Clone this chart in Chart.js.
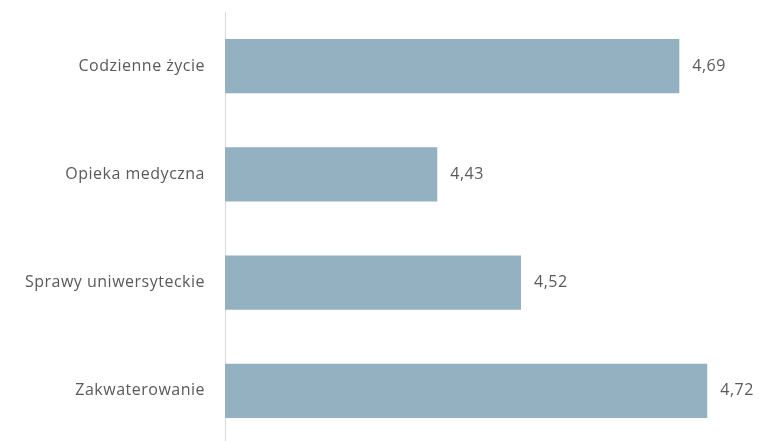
<!DOCTYPE html>
<html>
<head>
<meta charset="utf-8">
<script src="https://cdn.jsdelivr.net/npm/chart.js@4/dist/chart.umd.min.js"></script>
<style>
  html, body { margin: 0; padding: 0; background: #fff; overflow: hidden; }
  #wrap { position: relative; width: 759px; height: 445px; }
</style>
</head>
<body>
<div id="wrap"><canvas id="chart"></canvas></div>
<script>
// Données
const categories = ['Codzienne życie', 'Opieka medyczna', 'Sprawy uniwersyteckie', 'Zakwaterowanie'];
const values = [4.69, 4.43, 4.52, 4.72];

const textColor = '#595959';
const fontFamily = '"Open Sans", sans-serif';

// Espacement des lettres (texte un peu plus large que Open Sans)
const spacing = {
    id: 'spacing',
    beforeUpdate(chart) { chart.ctx.letterSpacing = '0.5px'; },
    beforeDraw(chart) { chart.ctx.letterSpacing = '0.5px'; }
};

// Étiquettes de valeur à droite des barres
const valueLabels = {
    id: 'valueLabels',
    afterDatasetsDraw(chart) {
        const ctx = chart.ctx;
        const meta = chart.getDatasetMeta(0);
        ctx.save();
        ctx.fillStyle = textColor;
        ctx.font = '16px ' + fontFamily;
        ctx.textAlign = 'left';
        ctx.textBaseline = 'middle';
        meta.data.forEach((bar, i) => {
            const txt = values[i].toFixed(2).replace('.', ',');
            ctx.fillText(txt, bar.x + 13, bar.y);
        });
        ctx.restore();
    }
};

new Chart(document.getElementById('chart').getContext('2d'), {
    type: 'bar',
    data: {
        labels: categories,
        datasets: [{
            data: values,
            backgroundColor: '#93b1c0',
            barPercentage: 0.5,
            categoryPercentage: 1
        }]
    },
    options: {
        indexAxis: 'y',
        responsive: true,
        maintainAspectRatio: false,
        animation: false,
        layout: { padding: { top: 12, right: 0, bottom: 0, left: 0 } },
        plugins: {
            legend: { display: false },
            tooltip: { enabled: false }
        },
        scales: {
            x: {
                display: false,
                min: 4.202,
                max: 4.7756
            },
            y: {
                afterFit(scale) {
                    scale.width = 225;
                    scale.paddingTop = 0;
                    scale.paddingBottom = 0;
                },
                grid: { display: true, drawOnChartArea: false, drawTicks: false },
                border: { display: true, color: '#d9d9d9', width: 1 },
                ticks: {
                    color: textColor,
                    padding: 20,
                    font: { family: fontFamily, size: 16 }
                }
            }
        }
    },
    plugins: [spacing, valueLabels]
});
</script>
</body>
</html>
